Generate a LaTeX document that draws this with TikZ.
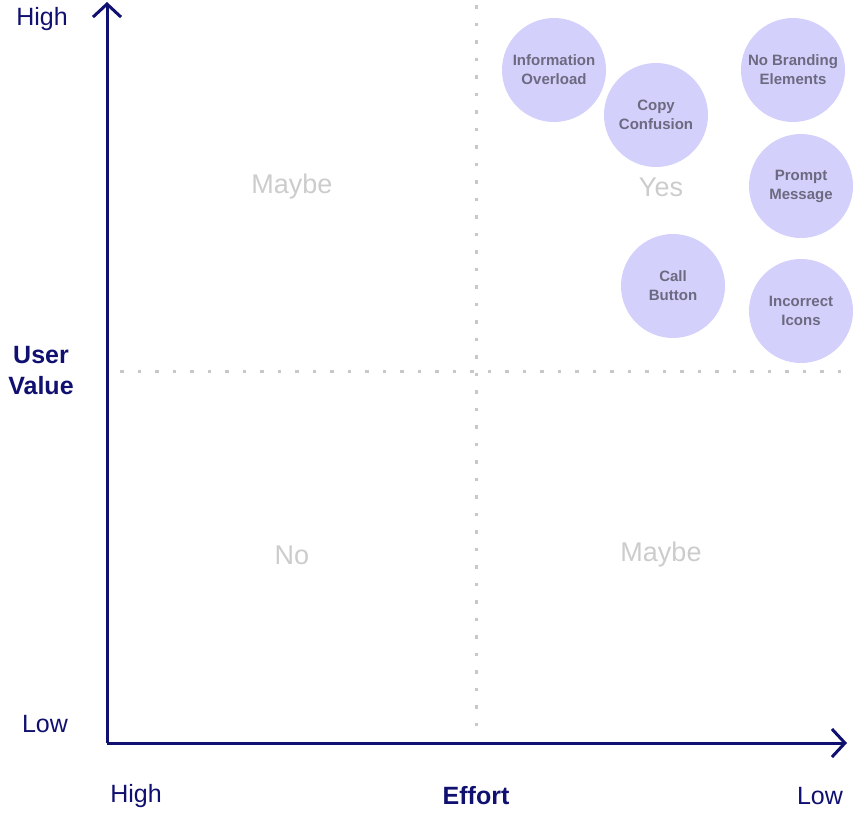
\documentclass[tikz,border=0pt]{standalone}
\usepackage{fontspec}
\setmainfont{Liberation Sans}
\usetikzlibrary{arrows.meta}
\definecolor{navy}{RGB}{16,16,112}
\definecolor{dotgray}{RGB}{200,200,200}
\definecolor{quad}{RGB}{204,204,204}
\definecolor{bubble}{RGB}{212,208,252}
\definecolor{bubtext}{RGB}{108,106,128}
\tikzset{
  axis/.style={draw=navy, line width=3pt, -{Straight Barb[length=13pt,width=28pt,line width=3pt]}},
  guide/.style={draw=dotgray, line width=3pt, dash pattern=on 3.5pt off 14pt},
  quadlabel/.style={text=quad, font=\fontsize{27}{31}\selectfont},
  axlabel/.style={text=navy, font=\fontsize{25}{30}\selectfont},
  axtitle/.style={text=navy, font=\bfseries\fontsize{25}{31}\selectfont, align=center},
  bub/.style={circle, fill=bubble, minimum size=104pt, inner sep=0pt, text=bubtext,
    font=\bfseries\fontsize{15}{19}\selectfont, align=center}
}
\begin{document}
\begin{tikzpicture}[x=1pt,y=-1pt]
\useasboundingbox (0,0) rectangle (854,812);
% guides
\coordinate (vtop) at (476,5);
\coordinate (vbot) at (476,728);
\coordinate (hl) at (120,371);
\coordinate (hr) at (848,371);
\draw[guide] (vtop) -- (vbot);
\draw[guide] (hl) -- (hr);
% axes
\coordinate (origin) at (107,743);
\coordinate (ytip) at (107,2);
\coordinate (xtip) at (847,743);
\draw[axis] (origin) -- (ytip);
\draw[axis] (origin) -- (xtip);
% quadrant labels
\node[quadlabel] (q1) at (292,187) {Maybe};
\node[quadlabel] (q2) at (661,187) {Yes};
\node[quadlabel] (q3) at (292,555) {No};
\node[quadlabel] (q4) at (661,555) {Maybe};
% axis labels
\node[axlabel] (yhigh) at (42,19) {High};
\node[axtitle] (ytitle) at (41,371) {User\\Value};
\node[axlabel] (ylow) at (45,724) {Low};
\node[axlabel] (xhigh) at (136,796) {High};
\node[axtitle] (xtitle) at (476,796) {Effort};
\node[axlabel] (xlow) at (820,796) {Low};
% bubbles
\node[bub] (b1) at (554,70) {Information\\Overload};
\node[bub] (b2) at (656,115) {Copy\\Confusion};
\node[bub] (b3) at (793,70) {No Branding\\Elements};
\node[bub] (b4) at (801,186) {Prompt\\Message};
\node[bub] (b5) at (673,286) {Call\\Button};
\node[bub] (b6) at (801,311) {Incorrect\\Icons};
\end{tikzpicture}
\end{document}
